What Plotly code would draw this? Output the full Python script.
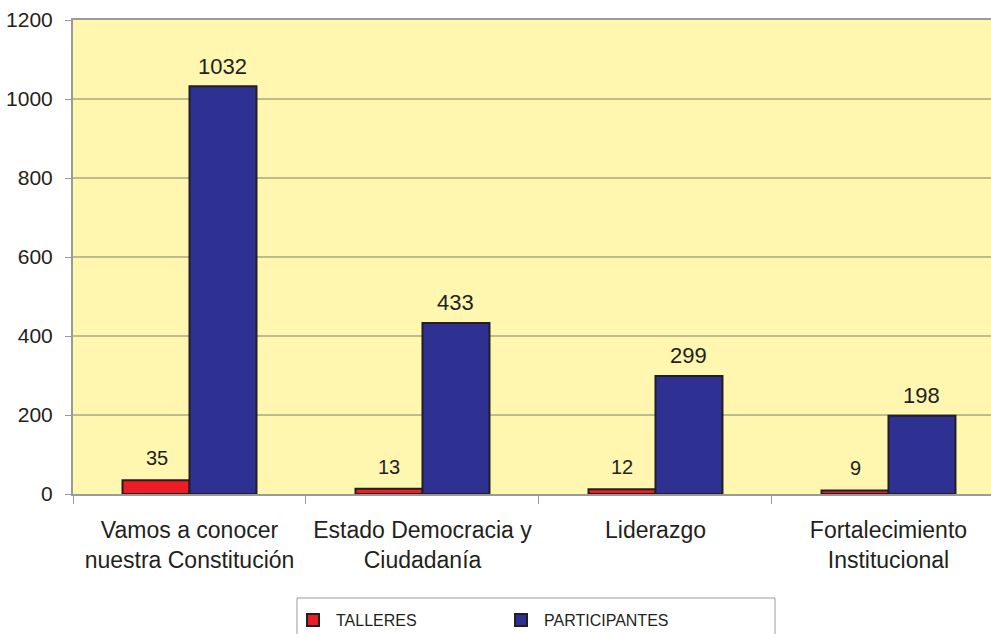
import plotly.graph_objects as go

categories = ["Vamos a conocer<br>nuestra Constitución", "Estado Democracia y<br>Ciudadanía", "Liderazgo", "Fortalecimiento<br>Institucional"]
talleres = [35, 13, 12, 9]
participantes = [1032, 433, 299, 198]
y_ticks = [0, 200, 400, 600, 800, 1000, 1200]

FONT = "Liberation Sans, Arial, sans-serif"

fig = go.Figure()
fig.add_trace(go.Bar(name="TALLERES", x=categories, y=talleres,
                     marker=dict(color="#EE1C25", line=dict(color="#231F20", width=2))))
fig.add_trace(go.Bar(name="PARTICIPANTES", x=categories, y=participantes,
                     marker=dict(color="#2E3192", line=dict(color="#231F20", width=2))))

for c, v in zip(categories, talleres):
    fig.add_annotation(x=c, y=v, text=str(v), showarrow=False, xshift=-33, yshift=22,
                       yanchor="middle", font=dict(size=20, color="#231F20", family=FONT))
for c, v in zip(categories, participantes):
    fig.add_annotation(x=c, y=v, text=str(v), showarrow=False, xshift=33, yshift=20,
                       yanchor="middle", font=dict(size=22, color="#231F20", family=FONT))

# legend frame (extends past the bottom edge, as in the reference)
fig.add_shape(type="rect", xref="paper", yref="paper", x0=0.244, x1=0.7647, y0=-0.32, y1=-0.2194,
              line=dict(color="#9A9A9A", width=1), fillcolor="white", layer="below")

fig.update_layout(
    width=991, height=634,
    margin=dict(l=73, r=0, t=20, b=140, autoexpand=False),
    paper_bgcolor="white", plot_bgcolor="#FFF6B0",
    barmode="group", bargap=0.425, bargroupgap=0,
    font=dict(family=FONT, color="#231F20"),
    showlegend=True,
    legend=dict(orientation="h", x=0.2364, xanchor="left", y=-0.230, yanchor="top",
                borderwidth=0, bgcolor="rgba(0,0,0,0)",
                entrywidth=157, entrywidthmode="pixels", itemwidth=36,
                font=dict(size=16, family=FONT, color="#231F20")),
)
fig.update_xaxes(range=[-0.5, 3.44], showline=True, linecolor="#9A9A9A", linewidth=2, mirror=True,
                 ticks="outside", tickson="boundaries", ticklen=8, tickcolor="#9A9A9A",
                 ticklabelstandoff=14, automargin=False,
                 tickfont=dict(size=23, family=FONT, color="#231F20"), showgrid=False)
fig.update_yaxes(range=[0, 1200], tickvals=y_ticks, showline=True, linecolor="#9A9A9A", linewidth=2,
                 ticks="outside", ticklen=6, tickcolor="#9A9A9A", ticklabelstandoff=8,
                 automargin=False,
                 gridcolor="#BFBC8C", gridwidth=1.5, zeroline=False,
                 tickfont=dict(size=21, family=FONT, color="#231F20"))

fig.write_html("out.html", config={"displayModeBar": False},
               post_script="document.body.style.margin='0';document.body.style.overflow='hidden';")
